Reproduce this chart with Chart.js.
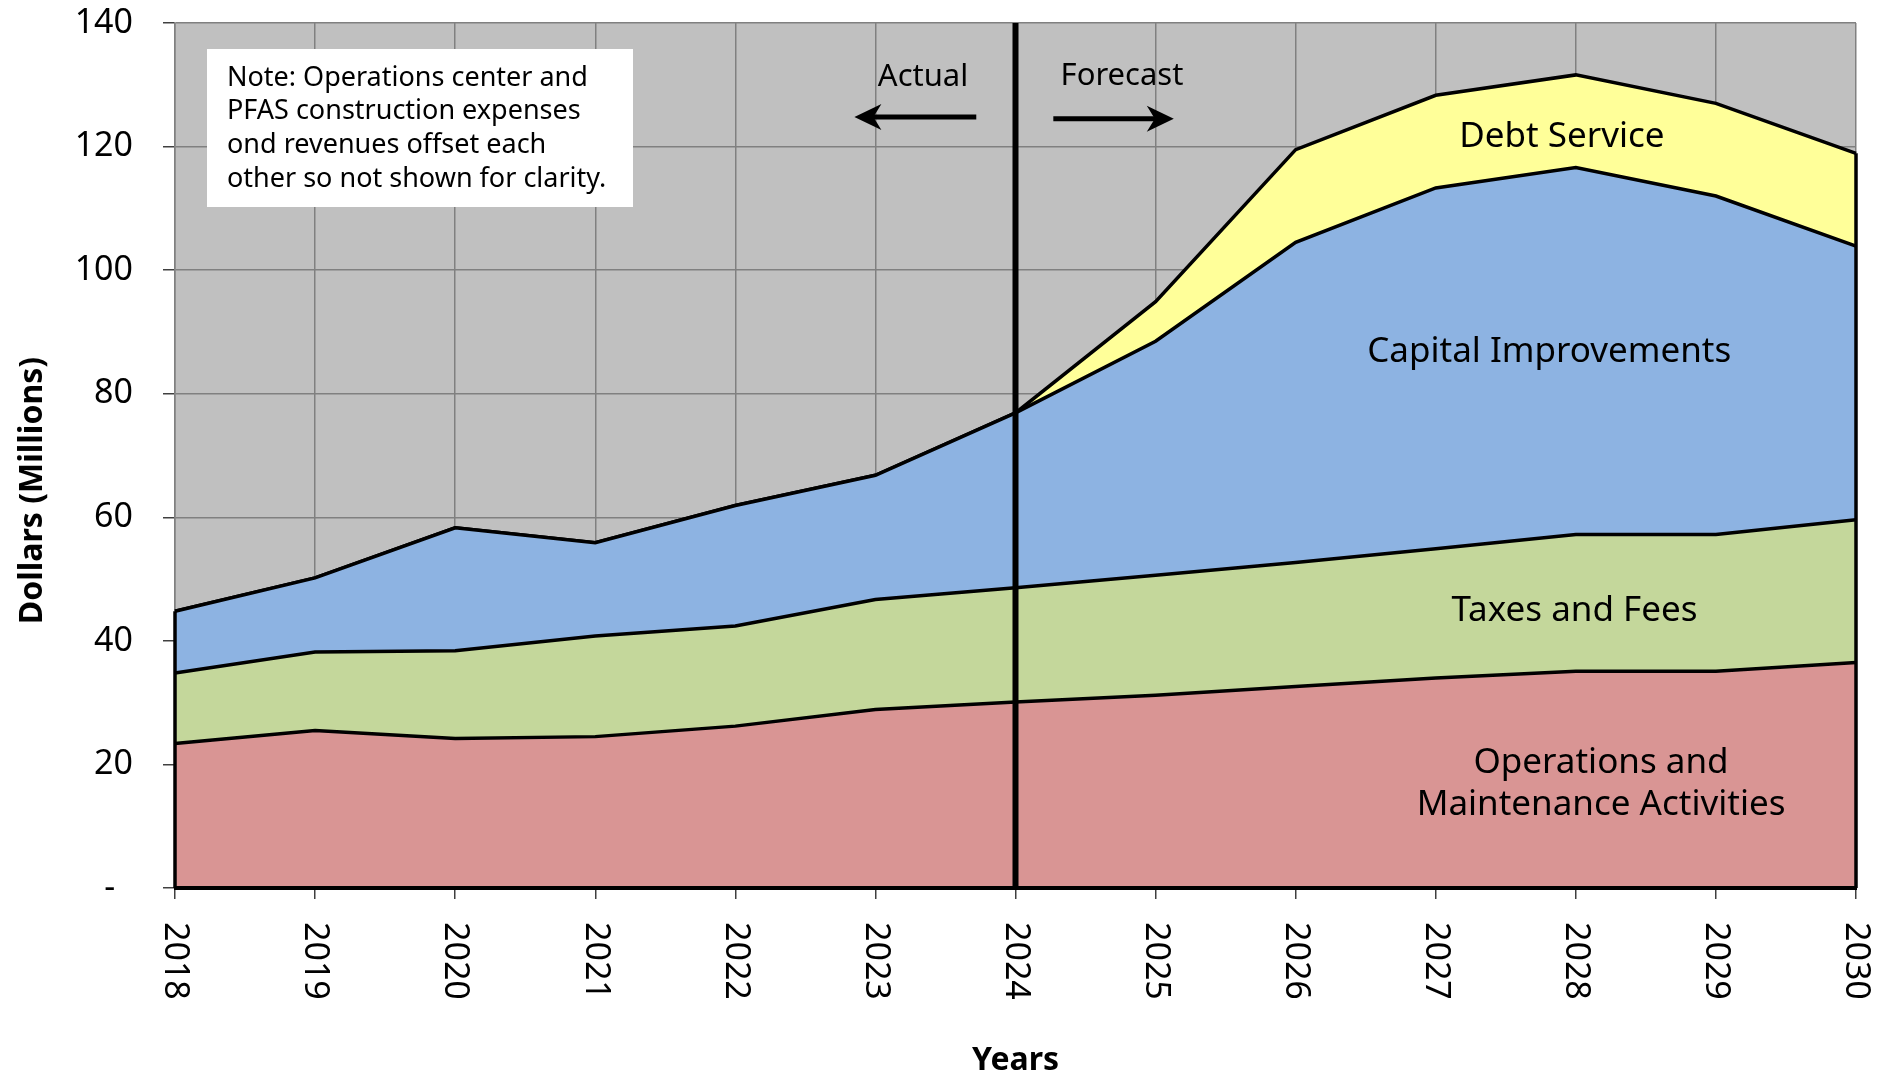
<!DOCTYPE html>
<html>
<head>
<meta charset="utf-8">
<script src="https://cdn.jsdelivr.net/npm/chart.js@4.4.0/dist/chart.umd.min.js"></script>
<style>
    html, body { margin: 0; padding: 0; background: #ffffff; }
</style>
</head>
<body>
<canvas id="grafico" width="1891" height="1078"></canvas>
<script>
// Dados (milhões de dólares)
const anos = ['2018', '2019', '2020', '2021', '2022', '2023', '2024', '2025', '2026', '2027', '2028', '2029', '2030'];
const operacoes = [23.4, 25.5, 24.2, 24.5, 26.2, 28.9, 30.1, 31.2, 32.6, 34.0, 35.1, 35.1, 36.5];
const taxas = [11.4, 12.7, 14.2, 16.3, 16.2, 17.8, 18.5, 19.4, 20.1, 20.9, 22.1, 22.1, 23.1];
const capital = [10.0, 12.0, 19.9, 15.1, 19.5, 20.1, 28.3, 37.9, 51.8, 58.4, 59.4, 54.8, 44.3];
const divida = [0, 0, 0, 0, 0, 0, 0, 6.4, 15.0, 15.0, 15.0, 15.0, 15.0];
const ticksY = [0, 20, 40, 60, 80, 100, 120, 140];
const anoCorte = 6; // índice de 2024 (Actual / Forecast)

const FONTE = '"Noto Sans", "DejaVu Sans", sans-serif';

// Rótulos dentro das áreas (posição em índice do ano / valor em milhões)
const rotulos = [
    { linhas: ['Debt Service'], x: 9.90, y: 121.5 },
    { linhas: ['Capital Improvements'], x: 9.81, y: 86.7 },
    { linhas: ['Taxes and Fees'], x: 9.99, y: 44.9 },
    { linhas: ['Operations and', 'Maintenance Activities'], x: 10.18, y: 20.2 }
];

const nota = [
    'Note: Operations center and',
    'PFAS construction expenses',
    'ond revenues offset each',
    'other so not shown for clarity.'
];

// Desenha uma seta com ponta farpada
function desenharSeta(ctx, x1, x2, y) {
    const dir = x2 > x1 ? 1 : -1;
    ctx.save();
    ctx.strokeStyle = '#000';
    ctx.fillStyle = '#000';
    ctx.lineWidth = 5;
    ctx.beginPath();
    ctx.moveTo(x1, y);
    ctx.lineTo(x2 - dir * 16, y);
    ctx.stroke();
    ctx.beginPath();
    ctx.moveTo(x2, y);
    ctx.lineTo(x2 - dir * 27, y - 13);
    ctx.lineTo(x2 - dir * 19, y);
    ctx.lineTo(x2 - dir * 27, y + 13);
    ctx.closePath();
    ctx.fill();
    ctx.restore();
}

const pluginExtras = {
    id: 'extras',
    beforeDraw(chart) {
        const { ctx, chartArea } = chart;
        ctx.save();
        ctx.fillStyle = '#c0c0c0';
        ctx.fillRect(chartArea.left, chartArea.top, chartArea.right - chartArea.left, chartArea.bottom - chartArea.top);
        ctx.restore();
    },
    afterDatasetsDraw(chart) {
        const { ctx, chartArea, scales } = chart;
        const xs = scales.x, ys = scales.y;
        const y0 = ys.getPixelForValue(0);
        ctx.save();
        ctx.strokeStyle = '#000';
        ctx.lineCap = 'butt';

        // bordas laterais das áreas
        ctx.lineWidth = 3.5;
        [0, anos.length - 1].forEach(i => {
            const total = operacoes[i] + taxas[i] + capital[i] + divida[i];
            const x = xs.getPixelForValue(i);
            ctx.beginPath();
            ctx.moveTo(x, y0);
            ctx.lineTo(x, ys.getPixelForValue(total));
            ctx.stroke();
        });

        // linha de base
        ctx.lineWidth = 4;
        ctx.beginPath();
        ctx.moveTo(chartArea.left - 1, y0);
        ctx.lineTo(chartArea.right + 1, y0);
        ctx.stroke();

        // linha vertical em 2024
        const xc = xs.getPixelForValue(anoCorte);
        ctx.lineWidth = 6;
        ctx.beginPath();
        ctx.moveTo(xc, chartArea.top);
        ctx.lineTo(xc, chartArea.bottom);
        ctx.stroke();
        ctx.restore();
    },
    afterDraw(chart) {
        const { ctx, chartArea, scales } = chart;
        const xs = scales.x, ys = scales.y;
        ctx.save();
        ctx.fillStyle = '#000';

        // rótulos do eixo x, girados no sentido horário
        ctx.font = '34px ' + FONTE;
        ctx.textAlign = 'left';
        ctx.textBaseline = 'middle';
        anos.forEach((ano, i) => {
            ctx.save();
            ctx.translate(xs.getPixelForValue(i), chartArea.bottom + 34);
            ctx.rotate(Math.PI / 2);
            ctx.fillText(ano, 0, 0);
            ctx.restore();
        });

        // título do eixo y
        ctx.save();
        ctx.font = 'bold 32px ' + FONTE;
        ctx.textAlign = 'center';
        ctx.textBaseline = 'middle';
        ctx.translate(33, (chartArea.top + chartArea.bottom) / 2 + 35);
        ctx.rotate(-Math.PI / 2);
        ctx.fillText('Dollars (Millions)', 0, 0);
        ctx.restore();

        // caixa de nota
        const bx = chartArea.left + 32, by = chartArea.top + 26;
        ctx.fillStyle = '#ffffff';
        ctx.fillRect(bx, by, 426, 158);
        ctx.fillStyle = '#000';
        ctx.font = '27px ' + FONTE;
        ctx.textAlign = 'left';
        nota.forEach((linha, i) => {
            ctx.fillText(linha, bx + 20, by + 29 + i * 33.8);
        });

        // rótulos das séries
        ctx.font = '35px ' + FONTE;
        ctx.textAlign = 'center';
        rotulos.forEach(r => {
            const px = xs.getPixelForValue(r.x);
            const py = ys.getPixelForValue(r.y);
            r.linhas.forEach((t, i) => ctx.fillText(t, px, py + i * 42));
        });

        // Actual / Forecast
        ctx.font = '31px ' + FONTE;
        ctx.fillText('Actual', xs.getPixelForValue(5.34), ys.getPixelForValue(131.2));
        ctx.fillText('Forecast', xs.getPixelForValue(6.76), ys.getPixelForValue(131.4));
        desenharSeta(ctx, xs.getPixelForValue(5.72), xs.getPixelForValue(4.85), ys.getPixelForValue(124.8));
        desenharSeta(ctx, xs.getPixelForValue(6.27), xs.getPixelForValue(7.13), ys.getPixelForValue(124.5));
        ctx.restore();
    }
};

function serie(nome, dados, cor, preenchimento) {
    return {
        label: nome,
        data: dados,
        backgroundColor: cor,
        borderColor: '#000000',
        borderWidth: 3.5,
        pointRadius: 0,
        tension: 0,
        fill: preenchimento
    };
}

const ctx = document.getElementById('grafico').getContext('2d');
const grafico = new Chart(ctx, {
    type: 'line',
    data: {
        labels: anos,
        datasets: [
            serie('Operations and Maintenance Activities', operacoes, '#d99594', 'origin'),
            serie('Taxes and Fees', taxas, '#c4d79b', '-1'),
            serie('Capital Improvements', capital, '#8db3e2', '-1'),
            serie('Debt Service', divida, '#ffff99', '-1')
        ]
    },
    plugins: [pluginExtras],
    options: {
        responsive: false,
        animation: false,
        devicePixelRatio: 1,
        layout: { padding: { top: 23, right: 35, left: 0, bottom: 0 } },
        plugins: {
            legend: { display: false },
            tooltip: { enabled: false }
        },
        scales: {
            x: {
                offset: false,
                grid: { color: '#808080', lineWidth: 1.5, tickLength: 11, tickColor: '#404040' },
                border: { color: '#808080', width: 1.5 },
                ticks: { color: 'rgba(0,0,0,0)', minRotation: 90, maxRotation: 90, autoSkip: false, font: { family: FONTE, size: 34 } },
                title: { display: true, text: 'Years', color: '#000', font: { family: FONTE, size: 32, weight: 'bold' }, padding: { top: 0, bottom: -2 } },
                afterFit(scale) {
                    scale.height = 190;
                    scale.paddingLeft = 0;
                    scale.paddingRight = 0;
                }
            },
            y: {
                stacked: true,
                min: 0,
                max: 140,
                afterBuildTicks(scale) { scale.ticks = ticksY.map(v => ({ value: v })); },
                grid: { color: '#808080', lineWidth: 1.5, tickLength: 12, tickColor: '#404040' },
                border: { color: '#808080', width: 1.5 },
                ticks: {
                    color: '#000',
                    padding: 30,
                    font: { family: FONTE, size: 34 },
                    callback: v => v === 0 ? '-  ' : String(v)
                },
                afterFit(scale) {
                    scale.width = 175;
                    scale.paddingTop = 0;
                    scale.paddingBottom = 0;
                }
            }
        }
    }
});
</script>
</body>
</html>
